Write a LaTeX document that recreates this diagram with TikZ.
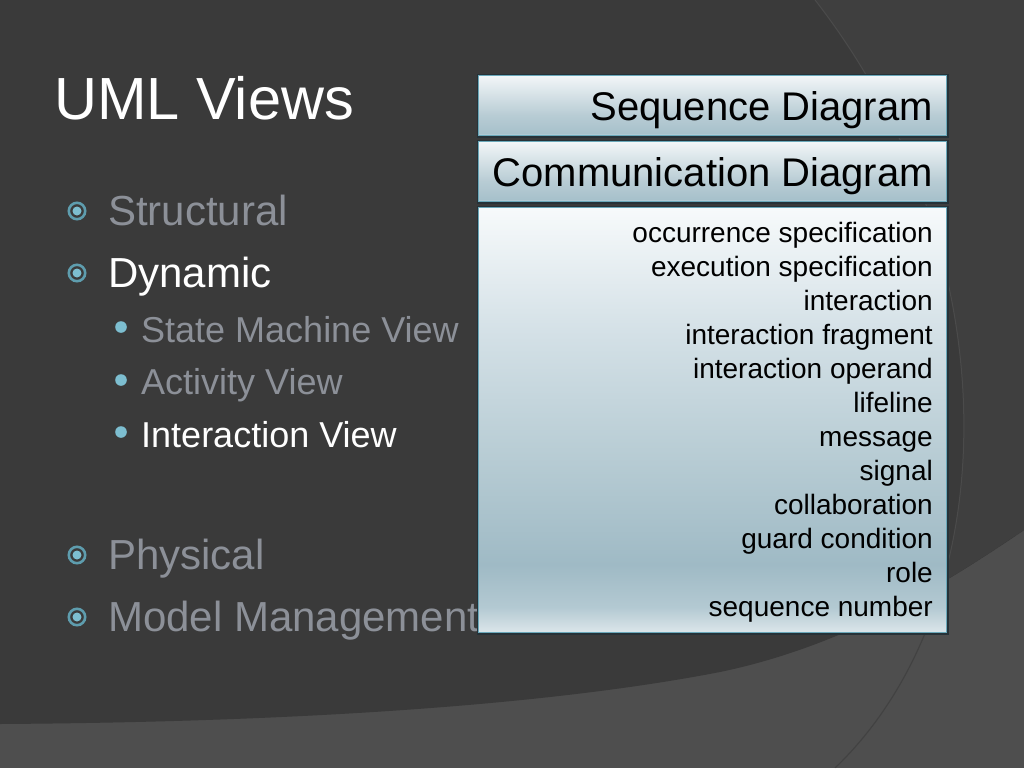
\documentclass[tikz,border=0pt]{standalone}
\usepackage{fontspec}
\setmainfont{Liberation Sans}
\definecolor{bgdark}{HTML}{3A3A3A}
\definecolor{bgright}{HTML}{3F3F3F}
\definecolor{bglight}{HTML}{4E4E4E}
\definecolor{txtgray}{HTML}{8C9098}
\definecolor{bulring}{HTML}{5E9DAE}
\definecolor{buldot}{HTML}{7DBED0}
\definecolor{edgedark}{HTML}{263238}
\definecolor{edgeteal}{HTML}{6AA8BA}
\definecolor{sb}{HTML}{C2DAE3}
\definecolor{sma}{HTML}{A7C1CB}
\definecolor{smb}{HTML}{B8CCD4}
\definecolor{st}{HTML}{F2F6F8}
\definecolor{la}{HTML}{DCE6EA}
\definecolor{lb}{HTML}{B3C9D2}
\definecolor{lc}{HTML}{9FBAC5}
\definecolor{ld}{HTML}{B6CBD3}
\definecolor{le}{HTML}{D3E0E6}
\definecolor{lf}{HTML}{F7FAFB}
\pgfdeclareverticalshading{seqshade}{100bp}{color(0bp)=(sb); color(25bp)=(sb); color(27bp)=(sma); color(42bp)=(smb); color(75bp)=(st); color(100bp)=(st)}
\pgfdeclareverticalshading{listshade}{100bp}{color(0bp)=(la); color(25bp)=(la); color(28bp)=(lb); color(33bp)=(lc); color(45bp)=(ld); color(60bp)=(le); color(75bp)=(lf); color(100bp)=(lf)}
\tikzset{
  panel/.style={rectangle, inner sep=0pt, anchor=north west, draw=edgeteal, line width=1.2pt,
    preaction={draw=edgedark, line width=4pt}},
  head/.style={anchor=base east, inner sep=0pt, font=\fontsize{40}{48}\selectfont, text=black},
  item/.style={anchor=base east, inner sep=0pt, font=\fontsize{28}{34}\selectfont, text=black},
  lvlone/.style={anchor=base west, inner sep=0pt, font=\fontsize{42}{50}\selectfont, text=txtgray},
  lvltwo/.style={anchor=base west, inner sep=0pt, font=\fontsize{36}{43}\selectfont, text=txtgray},
  ringb/.style={draw=bulring, line width=2.6pt},
  dotb/.style={fill=buldot},
}
\begin{document}
\begin{tikzpicture}[x=1pt,y=-1pt]
\useasboundingbox (0,0) rectangle (1024,768);
% background
\fill[bglight] (0,0) rectangle (1024,768);
\fill[bgdark] (0,0) -- (1024,0) -- (1024,530) .. controls (950,580) and (850,645) .. (720,672)
  .. controls (550,705) and (300,722) .. (0,724) -- cycle;
\begin{scope}
  \clip (0,0) -- (1024,0) -- (1024,530) .. controls (950,580) and (850,645) .. (720,672)
  .. controls (550,705) and (300,722) .. (0,724) -- cycle;
  \fill[bgright] (815,0) .. controls (1010,250) and (1010,600) .. (835,768) -- (1024,768) -- (1024,0) -- cycle;
  \draw[color=black!60!white, opacity=0.35, line width=1pt] (815,0) .. controls (1010,250) and (1010,600) .. (835,768);
  \draw[color=black, opacity=0.25, line width=3pt] (1024,532) .. controls (950,582) and (850,647) .. (720,674)
  .. controls (550,707) and (300,724) .. (0,726);
\end{scope}
\begin{scope}
  \clip (0,768) -- (1024,768) -- (1024,530) .. controls (950,580) and (850,645) .. (720,672)
  .. controls (550,705) and (300,722) .. (0,724) -- cycle;
  \draw[color=black, opacity=0.15, line width=1.2pt] (815,0) .. controls (1010,250) and (1010,600) .. (835,768);
\end{scope}
% title
\node[anchor=base west, inner sep=0pt, font=\fontsize{59.5}{66}\selectfont, text=white] (title) at (54,119) {UML Views};
% bullets
\foreach \yy in {211,273,555,617} {
  \draw[ringb] (77,\yy) circle[radius=8.2pt];
  \fill[dotb] (77,\yy) circle[radius=4.5pt];
}
\foreach \yy in {327,380,432} {
  \fill[dotb] (121,\yy) circle[radius=5.8pt];
}
\node[lvlone] (t1) at (108,225) {Structural};
\node[lvlone, text=white] (t2) at (108,287) {Dynamic};
\node[lvltwo] (u1) at (141,342) {State Machine View};
\node[lvltwo] (u2) at (141,394) {Activity View};
\node[lvltwo, text=white] (u3) at (141,447) {Interaction View};
\node[lvlone] (t3) at (108,569) {Physical};
\node[lvlone] (t4) at (108,631) {Model Management};
% panels
\node[panel, shading=seqshade, minimum width=468pt, minimum height=60pt] (seq) at (478,75) {};
\node[panel, shading=seqshade, minimum width=468pt, minimum height=60pt] (comm) at (478,141) {};
\node[panel, shading=listshade, minimum width=468pt, minimum height=425pt] (list) at (478,207) {};
\node[head] (seqt) at (933,120) {Sequence Diagram};
\node[head] (commt) at (933,186) {Communication Diagram};
\node[item] (i1) at (933,242) {occurrence specification};
\node[item] (i2) at (933,276) {execution specification};
\node[item] (i3) at (933,310) {interaction};
\node[item] (i4) at (933,344) {interaction fragment};
\node[item] (i5) at (933,378) {interaction operand};
\node[item] (i6) at (933,412) {lifeline};
\node[item] (i7) at (933,446) {message};
\node[item] (i8) at (933,480) {signal};
\node[item] (i9) at (933,514) {collaboration};
\node[item] (i10) at (933,548) {guard condition};
\node[item] (i11) at (933,582) {role};
\node[item] (i12) at (933,616) {sequence number};
\end{tikzpicture}
\end{document}
